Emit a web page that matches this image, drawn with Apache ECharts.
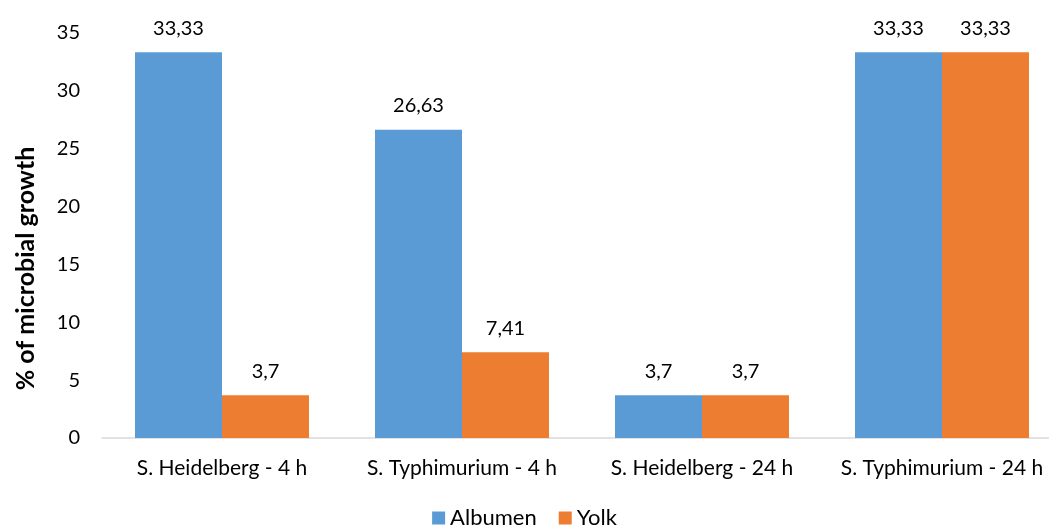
<!DOCTYPE html>
<html><head><meta charset="utf-8">
<script src="https://cdn.jsdelivr.net/npm/echarts@6/dist/echarts.min.js"></script>
<style>html,body{margin:0;padding:0;background:#fff}#c{width:1049px;height:530px}</style>
</head><body><div id="c"></div>
<script>
const categories = ['S. Heidelberg - 4 h','S. Typhimurium - 4 h','S. Heidelberg - 24 h','S. Typhimurium - 24 h'];
const albumen = [33.33, 26.63, 3.7, 33.33];
const yolk = [3.7, 7.41, 3.7, 33.33];
const yTicks = [0,5,10,15,20,25,30,35];
const FONT = 'Lato';
const chart = echarts.init(document.getElementById('c'));
const lbl = {show:true, position:'top', distance:14, fontFamily:FONT, fontSize:20, color:'#000',
  formatter: p => String(p.value).replace('.', ',')};
chart.setOption({
  animation:false,
  textStyle:{fontFamily:FONT},
  grid:{left:102, top:33, right:-13, bottom:92, containLabel:false, outerBoundsMode:'none'},
  legend:{top:502, left:'center', itemWidth:13, itemHeight:13, itemGap:22, icon:'rect',
    textStyle:{fontFamily:FONT, fontSize:22, color:'#000'}, data:['Albumen','Yolk']},
  xAxis:{type:'category', data:categories,
    axisLine:{lineStyle:{color:'#d9d9d9', width:1.5}}, axisTick:{show:false},
    axisLabel:{fontFamily:FONT, fontSize:21, color:'#000', margin:20, interval:0}},
  yAxis:{type:'value', min:0, max:35, interval:5,
    name:'% of microbial growth', nameLocation:'middle', nameGap:64,
    nameTextStyle:{fontFamily:FONT, fontSize:25, fontWeight:'bold', color:'#000', padding:[0,66,0,0]},
    axisLine:{show:false}, axisTick:{show:false}, splitLine:{show:false},
    axisLabel:{fontFamily:FONT, fontSize:20, color:'#000', margin:22,
      formatter: v => yTicks.includes(v) ? String(v) : ''}},
  series:[
    {name:'Albumen', type:'bar', data:albumen, barGap:'0%', barCategoryGap:'27.5%',
      itemStyle:{color:'#5B9BD5'}, label:lbl},
    {name:'Yolk', type:'bar', data:yolk, itemStyle:{color:'#ED7D31'}, label:lbl}
  ]
});
</script></body></html>
